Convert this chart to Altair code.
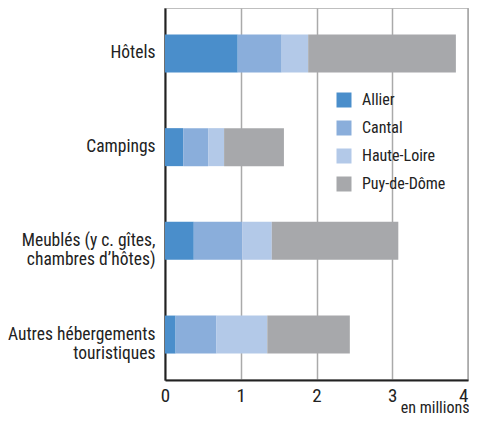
import altair as alt
import pandas as pd

categories = ["Hôtels", "Campings", "Meublés (y c. gîtes,|chambres d’hôtes)", "Autres hébergements|touristiques"]
series = ["Allier", "Cantal", "Haute-Loire", "Puy-de-Dôme"]
allier = [0.96, 0.24, 0.38, 0.14]
cantal = [0.58, 0.33, 0.64, 0.54]
haute_loire = [0.35, 0.21, 0.39, 0.67]
puy_de_dome = [1.95, 0.79, 1.67, 1.09]
colors = ["#4a8ecb", "#8aaedb", "#b3c9e8", "#a7a8ab"]
x_ticks = [0, 1, 2, 3, 4]

rows = []
for s_i, (s, vals) in enumerate(zip(series, [allier, cantal, haute_loire, puy_de_dome])):
    for c, v in zip(categories, vals):
        rows.append({"cat": c, "serie": s, "val": v, "ord": s_i})
df = pd.DataFrame(rows)

FONT = "Roboto Condensed"
W = 303

chart = alt.Chart(df).mark_bar(size=38).encode(
    y=alt.Y("cat:N", sort=categories, title=None,
            scale=alt.Scale(paddingInner=0.6, paddingOuter=0.285),
            axis=alt.Axis(labelExpr="split(datum.label, '|')", labelFontSize=17.5,
                          labelLineHeight=19, labelPadding=10, ticks=False, tickSize=0,
                          domainColor="#222", domainWidth=2, labelColor="#222",
                          labelFont=FONT, grid=False, labelLimit=200)),
    x=alt.X("val:Q", stack="zero", title="en millions",
            scale=alt.Scale(domain=[0, 4], nice=False, zero=True),
            axis=alt.Axis(values=x_ticks, labelFontSize=19, labelFont=FONT, labelColor="#222",
                          labelFlush=False, ticks=False, tickSize=0, labelPadding=21,
                          labelBaseline="alphabetic",
                          labelAlign={"condition": {"test": "datum.value === 4", "value": "right"}, "value": "center"},
                          domainColor="#222", domainWidth=2, grid=True, gridColor="#aaaaaa",
                          gridWidth=1.5, titleFont=FONT, titleFontSize=16, titleFontWeight="normal",
                          titleColor="#222", titleAnchor="end", titleAlign="right",
                          titleX=W + 1, titleY=32, titleBaseline="alphabetic")),
    color=alt.Color("serie:N", sort=series, title=None,
                    scale=alt.Scale(domain=series, range=colors),
                    legend=alt.Legend(orient="none", legendX=171, legendY=84,
                                      symbolType="square", symbolSize=225, symbolStrokeWidth=0,
                                      labelFontSize=16, labelFont=FONT, labelColor="#222",
                                      labelOffset=10, rowPadding=12, padding=0)),
    order=alt.Order("ord:Q"),
).properties(
    width=W, height=372,
    autosize=alt.AutoSizeParams(type="none"),
    padding={"left": 157, "top": 0, "right": 1, "bottom": 33},
).configure_view(stroke="#aaaaaa", strokeWidth=1.5)

chart.save("out.html", embed_options={"renderer": "svg", "actions": False})
